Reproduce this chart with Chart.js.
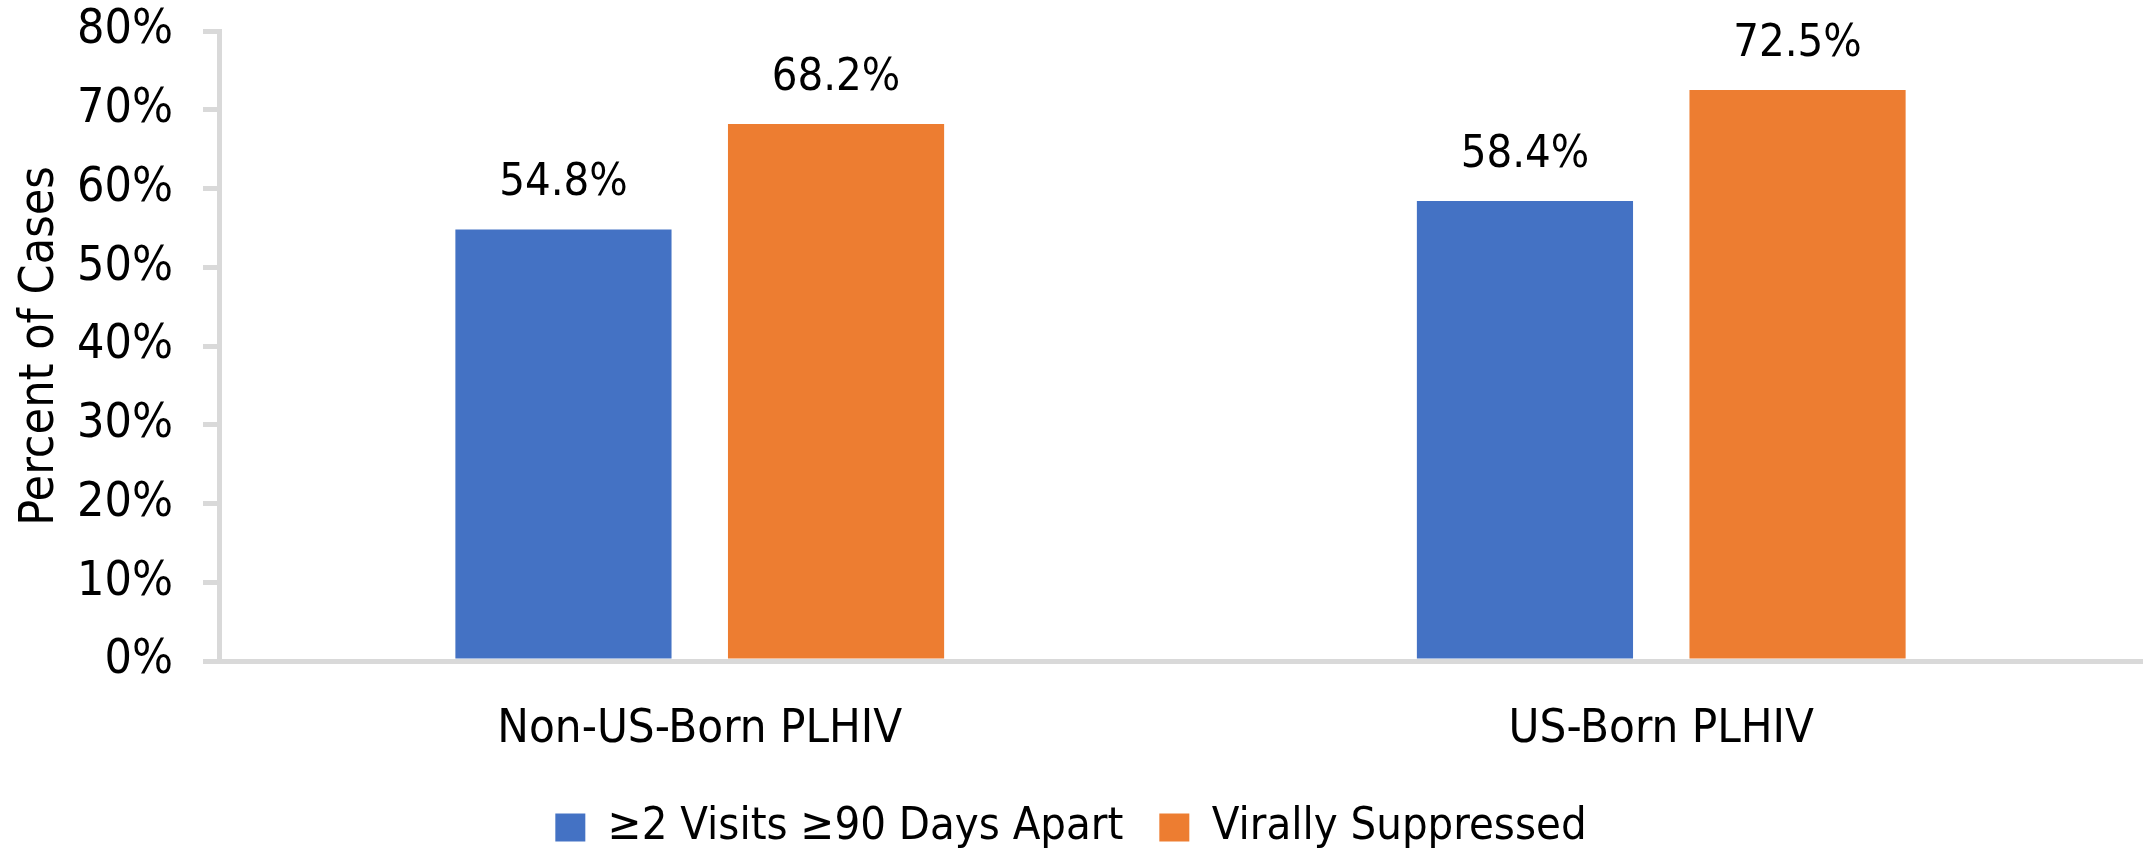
<!DOCTYPE html>
<html>
<head>
<meta charset="utf-8">
<script src="https://cdn.jsdelivr.net/npm/chart.js@4.4.1/dist/chart.umd.min.js"></script>
<style>
  body { margin: 0; background: #fff; }
  #contenedor { width: 2152px; height: 854px; }
</style>
</head>
<body>
<div id="contenedor"><canvas id="grafica"></canvas></div>
<script>
const categorias = ["Non-US-Born PLHIV", "US-Born PLHIV"];
const series = ["\u22652 Visits \u226590 Days Apart", "Virally Suppressed"];
const visitas = [54.8, 58.4];
const suprimidos = [68.2, 72.5];
const ticksY = [0, 10, 20, 30, 40, 50, 60, 70, 80];

const fuente = '"DejaVu Sans Condensed", "DejaVu Sans", sans-serif';
const gris = "#d9d9d9";

Chart.defaults.font.family = fuente;
Chart.defaults.font.size = 47;
Chart.defaults.color = "#000";

// etiquetas encima de cada barra
const etiquetasValor = {
  id: "etiquetasValor",
  afterDatasetsDraw(chart) {
    const ctx = chart.ctx;
    ctx.save();
    ctx.font = "45px " + fuente;
    ctx.fillStyle = "#000";
    ctx.textAlign = "center";
    ctx.textBaseline = "alphabetic";
    chart.data.datasets.forEach((ds, i) => {
      chart.getDatasetMeta(i).data.forEach((barra, j) => {
        ctx.fillText(ds.data[j].toFixed(1) + "%", barra.x, barra.y - 34);
      });
    });
    ctx.restore();
  }
};

new Chart(document.getElementById("grafica"), {
  type: "bar",
  data: {
    labels: categorias,
    datasets: [
      { label: series[0], data: visitas, backgroundColor: "#4472C4", borderWidth: 0 },
      { label: series[1], data: suprimidos, backgroundColor: "#ED7D31", borderWidth: 0 }
    ]
  },
  options: {
    responsive: true,
    maintainAspectRatio: false,
    animation: false,
    categoryPercentage: 0.567,
    barPercentage: 0.793,
    layout: { padding: { top: 31, right: 10, left: 0, bottom: -6 } },
    plugins: {
      tooltip: { enabled: false },
      legend: {
        position: "bottom",
        labels: { boxWidth: 30, boxHeight: 28, padding: 36, font: { size: 45 } }
      }
    },
    scales: {
      x: {
        grid: { display: false },
        border: { display: true, color: gris, width: 5 },
        ticks: { padding: 33, font: { size: 47 } },
        afterFit: s => { s.height = 108; }
      },
      y: {
        min: ticksY[0],
        max: ticksY[ticksY.length - 1],
        afterBuildTicks: s => { s.ticks = ticksY.map(v => ({ value: v })); },
        grid: { drawOnChartArea: false, drawTicks: true, tickLength: 16, color: gris, lineWidth: 5 },
        border: { display: true, color: gris, width: 5 },
        ticks: { padding: 30, font: { size: 48 }, callback: v => v + "%" },
        title: { display: true, text: "Percent of Cases", font: { size: 48 }, padding: { top: 12, bottom: 0 } },
        afterFit: s => {
          s.width = 219;
          s.paddingTop = 0;
          s.paddingBottom = 0;
        }
      }
    }
  },
  plugins: [etiquetasValor]
});
</script>
</body>
</html>
